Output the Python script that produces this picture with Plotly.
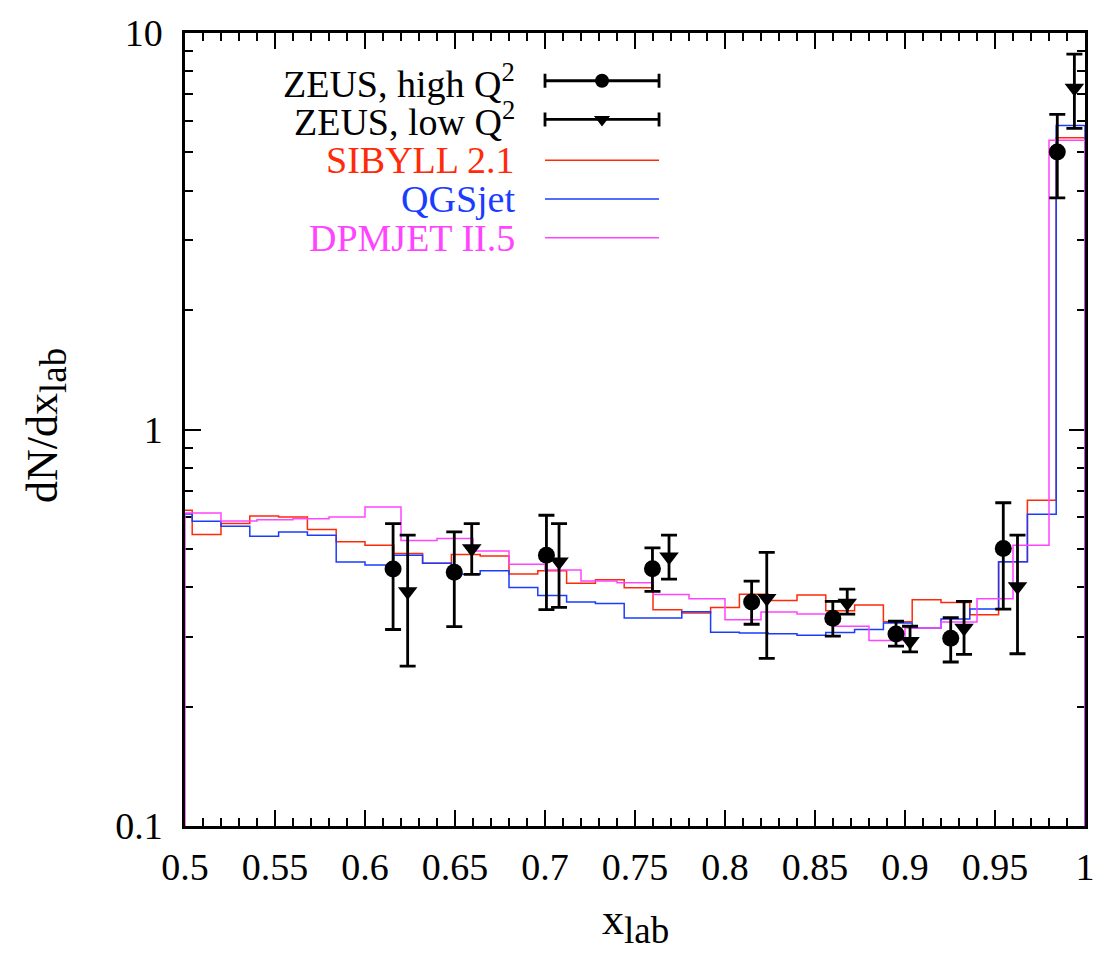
import plotly.graph_objects as go

# ---------------------------------------------------------------------------
# Model predictions (histograms).  SIBYLL 2.1 and QGSjet use bins of width
# 0.016 ending at x = 1; DPMJET II.5 uses bins of width 0.02 starting at 0.5.
# ---------------------------------------------------------------------------
sib_qgs_edges = [round(0.488 + 0.016 * i, 3) for i in range(33)]
dpm_edges = [round(0.50 + 0.02 * i, 2) for i in range(26)]

sibyll = [0.6255, 0.5433, 0.5790, 0.6053, 0.6017, 0.5597, 0.5207, 0.5109,
          0.4867, 0.4596, 0.4842, 0.4797, 0.4323, 0.4406, 0.4096, 0.4177,
          0.3989, 0.3513, 0.3445, 0.3559, 0.3844, 0.3706, 0.3826, 0.3489,
          0.3611, 0.3274, 0.3721, 0.3664, 0.3412, 0.4642, 0.6627, 5.445]
qgsjet = [0.6123, 0.5871, 0.5703, 0.5377, 0.5518, 0.5408, 0.4634, 0.4554,
          0.4819, 0.4596, 0.4313, 0.4406, 0.3995, 0.3815, 0.3674, 0.3642,
          0.3346, 0.3346, 0.3468, 0.3081, 0.3069, 0.3055, 0.3029, 0.3078,
          0.3130, 0.3251, 0.3159, 0.3326, 0.3525, 0.4642, 0.6112, 5.848]
dpmjet = [0.6158, 0.5881, 0.5925, 0.5959, 0.6017, 0.6375, 0.5252, 0.5307,
          0.4937, 0.4570, 0.4424, 0.4148, 0.4105, 0.3837, 0.3743, 0.3311,
          0.3464, 0.3424, 0.3190, 0.2938, 0.3159, 0.3270, 0.3743, 0.5109,
          5.361]

# ZEUS leading-neutron data: central value and upper / lower error-bar ends
high_x = [0.6156, 0.6496, 0.7008, 0.7597, 0.8148, 0.8599, 0.8950, 0.9254, 0.9546, 0.9846]
high_y = [0.4449, 0.4363, 0.4815, 0.4457, 0.3674, 0.3341, 0.3051, 0.2976, 0.5012, 5.012]
high_hi = [0.5790, 0.5518, 0.6077, 0.5030, 0.4148, 0.3684, 0.3284, 0.3354, 0.6535, 6.231]
high_lo = [0.3130, 0.3184, 0.3513, 0.3904, 0.3227, 0.3011, 0.2842, 0.2592, 0.3525, 3.837]

low_x = [0.6237, 0.6593, 0.7078, 0.7689, 0.8232, 0.8679, 0.9028, 0.9328, 0.9625, 0.9941]
low_y = [0.3904, 0.5012, 0.4642, 0.4778, 0.3755, 0.3652, 0.2925, 0.3159, 0.4018, 7.27]
low_hi = [0.5414, 0.5790, 0.5790, 0.5414, 0.4898, 0.3956, 0.3190, 0.3684, 0.5414, 8.845]
low_lo = [0.2532, 0.4313, 0.3559, 0.4196, 0.2647, 0.3424, 0.2750, 0.2710, 0.2719, 5.745]

x_ticks = [0.5, 0.55, 0.6, 0.65, 0.7, 0.75, 0.8, 0.85, 0.9, 0.95, 1.0]
x_ticktext = ["0.5", "0.55", "0.6", "0.65", "0.7", "0.75", "0.8", "0.85", "0.9", "0.95", "1"]
y_ticks = [0.1, 1, 10]
y_ticktext = ["0.1", "1", "10"]
y_minor = [0.2, 0.3, 0.4, 0.5, 0.6, 0.7, 0.8, 0.9, 2, 3, 4, 5, 6, 7, 8, 9]

Y_MIN, Y_MAX = 0.1, 10.0

RED = "#ff2a0a"
BLUE = "#1a3cff"
MAGENTA = "#ff44ff"
FONT = "Liberation Serif, Times New Roman, serif"


def step_path(edges, values):
    """Histogram outline that rises from and falls back to the axis floor."""
    xs = [edges[0]] + list(edges[:-1]) + [edges[-1]]
    ys = [Y_MIN] + list(values) + [Y_MIN]
    return xs, ys


fig = go.Figure()

for name, edges, vals, col in [("SIBYLL 2.1", sib_qgs_edges, sibyll, RED),
                               ("QGSjet", sib_qgs_edges, qgsjet, BLUE),
                               ("DPMJET II.5", dpm_edges, dpmjet, MAGENTA)]:
    xs, ys = step_path(edges, vals)
    fig.add_trace(go.Scatter(x=xs, y=ys, mode="lines", name=name,
                             line=dict(color=col, width=1.5, shape="hv"),
                             showlegend=False, hoverinfo="skip"))


def data_points(xv, yv, hi, lo, symbol, size, name):
    plus = [h - v for h, v in zip(hi, yv)]
    minus = [v - l for v, l in zip(yv, lo)]
    return go.Scatter(
        x=xv, y=yv, mode="markers", name=name, showlegend=False,
        marker=dict(symbol=symbol, size=size, color="black"),
        error_y=dict(type="data", symmetric=False, array=plus, arrayminus=minus,
                     color="black", thickness=2.8, width=8),
    )


fig.add_trace(data_points(high_x, high_y, high_hi, high_lo, "circle", 17, "ZEUS, high Q2"))
fig.add_trace(data_points(low_x, low_y, low_hi, low_lo, "triangle-down", 17, "ZEUS, low Q2"))

# Key drawn inside the frame: text on the left, sample on the right
key_rows = [0.9398, 0.8910, 0.8396, 0.7907, 0.7419]
key_text = ["ZEUS, high Q<sup>2</sup>", "ZEUS, low Q<sup>2</sup>",
            "SIBYLL 2.1", "QGSjet", "DPMJET II.5"]
key_color = ["black", "black", RED, BLUE, MAGENTA]
key_x0, key_x1, key_text_x = 0.400, 0.5267, 0.3689
key_mid = (key_x0 + key_x1) / 2

for sym, row in [("circle", key_rows[0]), ("triangle-down", key_rows[1])]:
    fig.add_trace(go.Scatter(
        x=[key_mid], y=[row], xaxis="x2", yaxis="y2", mode="markers",
        showlegend=False, hoverinfo="skip",
        marker=dict(symbol=sym, size=14, color="black"),
        error_x=dict(type="constant", value=key_mid - key_x0, color="black",
                     thickness=2.8, width=7),
    ))
for row, col in zip(key_rows[2:], key_color[2:]):
    fig.add_trace(go.Scatter(
        x=[key_x0, key_x1], y=[row, row], xaxis="x2", yaxis="y2", mode="lines",
        showlegend=False, hoverinfo="skip", line=dict(color=col, width=1.5),
    ))
for txt, row, col in zip(key_text, key_rows, key_color):
    fig.add_annotation(x=key_text_x, y=row, xref="x2", yref="y2", text=txt,
                       showarrow=False, xanchor="right", yanchor="middle",
                       font=dict(family=FONT, size=38, color=col))

# Axis titles
fig.add_annotation(x=-0.155, y=0.505, xref="paper", yref="paper", textangle=-90,
                   text="dN/dx<sub><span style='font-size:37px'>lab</span></sub>",
                   showarrow=False, xanchor="center", yanchor="middle",
                   font=dict(family=FONT, size=44, color="black"))
fig.add_annotation(x=0.5, y=-0.122, xref="paper", yref="paper",
                   text="x<sub><span style='font-size:37px'>lab</span></sub>",
                   showarrow=False, xanchor="center", yanchor="middle",
                   font=dict(family=FONT, size=44, color="black"))

axis_common = dict(showline=True, linecolor="black", linewidth=2.5, mirror="allticks",
                   ticks="inside", ticklen=16, tickwidth=2, tickcolor="black",
                   showgrid=False, zeroline=False, layer="below traces",
                   tickfont=dict(family=FONT, size=38, color="black"))

fig.update_layout(
    width=1111, height=953,
    margin=dict(l=185, r=26, t=28, b=127),
    paper_bgcolor="white", plot_bgcolor="white",
    showlegend=False,
    font=dict(family=FONT, color="black"),
    xaxis=dict(range=[0.5, 1.0], tickvals=x_ticks, ticktext=x_ticktext,
               ticklabelstandoff=6,
               minor=dict(dtick=0.01, tick0=0.5, ticks="inside", ticklen=8,
                          tickwidth=2, tickcolor="black", showgrid=False),
               **axis_common),
    yaxis=dict(type="log", range=[-1, 1], tickvals=y_ticks, ticktext=y_ticktext,
               ticklabelstandoff=12,
               minor=dict(tickmode="array", tickvals=y_minor, ticks="inside",
                          ticklen=8, tickwidth=2, tickcolor="black", showgrid=False),
               **axis_common),
    xaxis2=dict(overlaying="x", range=[0, 1], visible=False),
    yaxis2=dict(overlaying="y", range=[0, 1], visible=False),
)

fig.write_html("out.html")
